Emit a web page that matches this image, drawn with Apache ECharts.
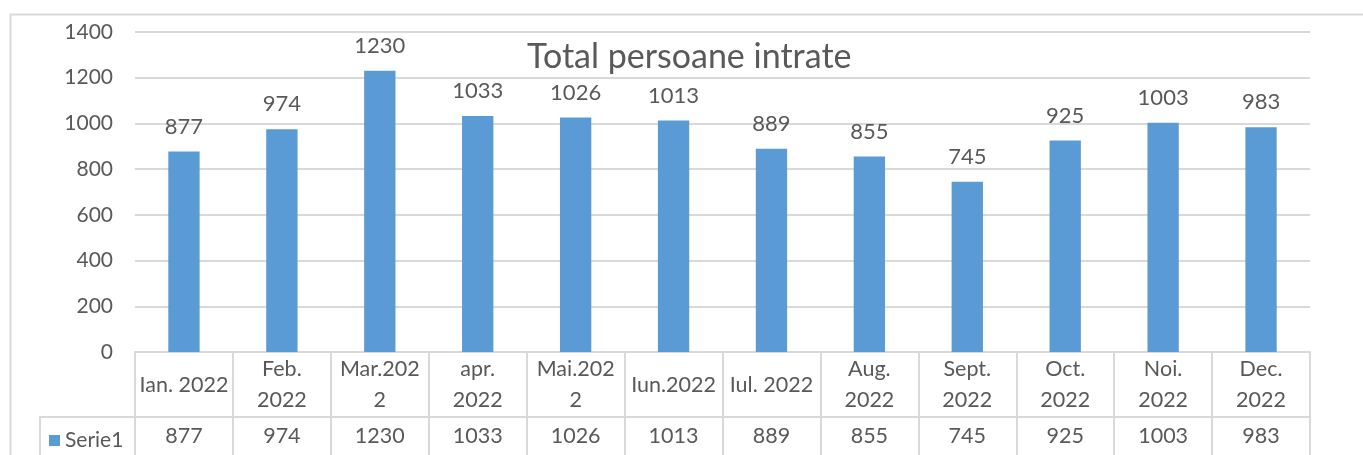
<!DOCTYPE html>
<html>
<head>
<meta charset="utf-8">
<script src="https://cdn.jsdelivr.net/npm/echarts@6/dist/echarts.min.js"></script>
<style>
html, body { margin: 0; padding: 0; background: #fff; }
#chart { width: 1363px; height: 455px; }
</style>
</head>
<body>
<div id="chart"></div>
<script>
// luni (etichete cu rand nou ca in tabel)
const categories = ['Ian. 2022', 'Feb.\n2022', 'Mar.202\n2', 'apr.\n2022', 'Mai.202\n2', 'Iun.2022',
	'Iul. 2022', 'Aug.\n2022', 'Sept.\n2022', 'Oct.\n2022', 'Noi.\n2022', 'Dec.\n2022'];
const values = [877, 974, 1230, 1033, 1026, 1013, 889, 855, 745, 925, 1003, 983];
const seriesName = 'Serie1';
const yTicks = [0, 200, 400, 600, 800, 1000, 1200, 1400];

const textColor = '#595959';
const lineColor = '#d9d9d9';
const font = 'Lato, "Liberation Sans", sans-serif';

let myChart = echarts.init(document.getElementById('chart'));
myChart.setOption({
	animation: false,
	textStyle: { fontFamily: font },
	title: {
		text: 'Total persoane intrate',
		left: 522,
		top: 35,
		textStyle: { fontSize: 34, fontWeight: 'normal', color: textColor, fontFamily: font }
	},
	legend: {
		data: [seriesName],
		left: 44,
		top: 425,
		icon: 'rect',
		itemWidth: 11,
		itemHeight: 11,
		itemGap: 6,
		textStyle: { fontSize: 21, color: textColor, fontFamily: font }
	},
	grid: { left: 135, right: 53, top: 32, bottom: 103 },
	xAxis: [{
		type: 'category',
		data: categories,
		position: 'bottom',
		axisLine: { show: true, lineStyle: { color: lineColor, width: 2 } },
		axisTick: { show: true, interval: 0, length: 105, lineStyle: { color: lineColor, width: 2 } },
		axisLabel: {
			interval: 0, margin: 33, verticalAlign: 'middle', lineHeight: 31,
			fontSize: 21.5, color: textColor, fontFamily: font
		}
	}, {
		type: 'category',
		data: categories,
		position: 'bottom',
		offset: 65,
		axisLine: { show: true, lineStyle: { color: lineColor, width: 2 } },
		axisTick: { show: false },
		axisLabel: {
			interval: 0, margin: 19, verticalAlign: 'middle',
			fontSize: 21.5, color: textColor, fontFamily: font,
			formatter: function (v, i) { return String(values[i]); }
		}
	}],
	yAxis: {
		type: 'value',
		min: yTicks[0],
		max: yTicks[yTicks.length - 1],
		interval: 200,
		axisLine: { show: false },
		axisTick: { show: false },
		axisLabel: { margin: 22, fontSize: 21, color: textColor, fontFamily: font,
			formatter: function (v) { return String(v); } },
		splitLine: { lineStyle: { color: lineColor, width: 2 } }
	},
	series: [{
		name: seriesName,
		type: 'bar',
		data: values,
		barWidth: '32%',
		itemStyle: { color: '#5b9bd5' },
		label: { show: true, position: 'top', distance: 14, fontSize: 22, color: textColor, fontFamily: font }
	}],
	graphic: [
		// cadrul graficului
		{ type: 'rect', left: 8, top: 12, z: -10, silent: true,
			shape: { width: 1420, height: 500 }, style: { fill: 'none', stroke: lineColor, lineWidth: 2 } },
		// celula legendei din tabel
		{ type: 'polyline', z: 10, silent: true,
			shape: { points: [[40, 460], [40, 417], [135, 417]] },
			style: { fill: 'none', stroke: lineColor, lineWidth: 2 } }
	]
});
</script>
</body>
</html>
